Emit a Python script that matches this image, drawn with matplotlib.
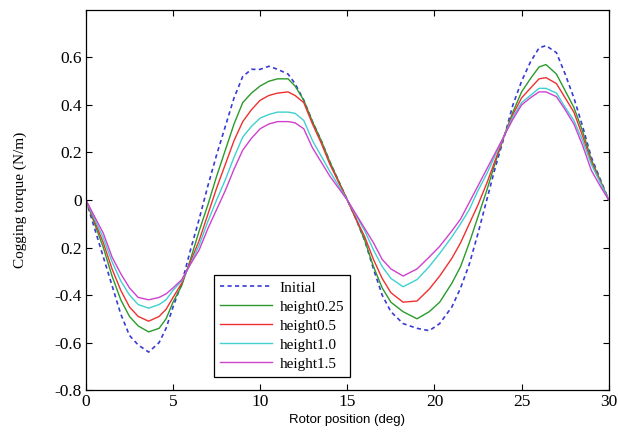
import numpy as np
import matplotlib
matplotlib.use("Agg")
import matplotlib.pyplot as plt

plt.rcParams['font.family'] = 'Liberation Serif'
plt.rcParams['axes.unicode_minus'] = False

# rotor position (deg)
pos = [0, 0.5, 1, 1.5, 2, 2.5, 3, 3.6, 4.2, 4.6,
       5, 5.5, 6, 6.5, 7, 7.5, 8, 8.5, 9, 9.5,
       10, 10.5, 11, 11.6, 12, 12.5, 13, 13.5, 14, 14.5,
       15, 15.5, 16, 16.5, 17, 17.5, 18.2, 19, 19.7, 20.3,
       21, 21.5, 22, 22.5, 23, 23.5, 24, 24.5, 25, 25.5,
       26, 26.4, 27, 27.5, 28, 28.5, 29, 29.5, 30]

# cogging torque (N/m)
initial = [0, -0.12, -0.24, -0.36, -0.48, -0.57, -0.61, -0.64, -0.60, -0.54,
           -0.45, -0.35, -0.21, -0.08, 0.06, 0.19, 0.31, 0.43, 0.52, 0.55,
           0.55, 0.563, 0.55, 0.53, 0.49, 0.42, 0.33, 0.25, 0.16, 0.08,
           0, -0.08, -0.17, -0.29, -0.40, -0.47, -0.52, -0.54, -0.55, -0.52,
           -0.45, -0.37, -0.27, -0.14, 0.0, 0.14, 0.265, 0.40, 0.50, 0.58,
           0.64, 0.65, 0.62, 0.53, 0.43, 0.31, 0.18, 0.09, 0]
h025 = [0, -0.10, -0.20, -0.32, -0.42, -0.49, -0.53, -0.555, -0.54, -0.50,
        -0.43, -0.36, -0.25, -0.13, -0.02, 0.10, 0.21, 0.32, 0.41, 0.45,
        0.48, 0.50, 0.51, 0.51, 0.48, 0.42, 0.33, 0.25, 0.16, 0.08,
        0, -0.08, -0.17, -0.28, -0.37, -0.43, -0.47, -0.50, -0.47, -0.43,
        -0.35, -0.28, -0.18, -0.07, 0.04, 0.16, 0.27, 0.37, 0.455, 0.51,
        0.56, 0.57, 0.53, 0.46, 0.39, 0.29, 0.17, 0.085, 0]
h05 = [0, -0.09, -0.18, -0.29, -0.38, -0.45, -0.49, -0.51, -0.49, -0.46,
       -0.41, -0.35, -0.26, -0.17, -0.06, 0.05, 0.15, 0.25, 0.33, 0.38,
       0.42, 0.44, 0.45, 0.455, 0.44, 0.41, 0.32, 0.24, 0.15, 0.075,
       0, -0.08, -0.155, -0.25, -0.33, -0.39, -0.43, -0.425, -0.375, -0.32,
       -0.245, -0.18, -0.10, -0.02, 0.07, 0.17, 0.27, 0.36, 0.43, 0.47,
       0.51, 0.515, 0.49, 0.43, 0.37, 0.27, 0.16, 0.08, 0]
h10 = [0, -0.08, -0.16, -0.26, -0.34, -0.40, -0.44, -0.455, -0.44, -0.42,
       -0.38, -0.34, -0.27, -0.19, -0.09, 0.0, 0.085, 0.18, 0.265, 0.31,
       0.345, 0.36, 0.37, 0.37, 0.365, 0.335, 0.25, 0.185, 0.12, 0.06,
       0, -0.065, -0.13, -0.21, -0.28, -0.33, -0.365, -0.335, -0.28, -0.225,
       -0.155, -0.10, -0.04, 0.04, 0.11, 0.19, 0.27, 0.35, 0.41, 0.44,
       0.47, 0.47, 0.45, 0.39, 0.335, 0.25, 0.15, 0.075, 0]
h15 = [0, -0.07, -0.14, -0.24, -0.31, -0.37, -0.41, -0.42, -0.41, -0.395,
       -0.37, -0.335, -0.27, -0.21, -0.12, -0.04, 0.04, 0.13, 0.21, 0.26,
       0.30, 0.32, 0.33, 0.33, 0.325, 0.30, 0.22, 0.16, 0.10, 0.05,
       0, -0.06, -0.12, -0.18, -0.25, -0.29, -0.32, -0.29, -0.24, -0.195,
       -0.13, -0.08, -0.01, 0.06, 0.13, 0.20, 0.27, 0.34, 0.40, 0.43,
       0.455, 0.455, 0.435, 0.38, 0.32, 0.23, 0.125, 0.06, 0]

ytick_vals = [-0.8, -0.6, -0.4, -0.2, 0, 0.2, 0.4, 0.6]
ytick_labels = ['-0.8', '-0.6', '-0.4', '0.2', '0', '0.2', '0.4', '0.6']

fig = plt.figure(figsize=(6.18, 4.32), dpi=100)
ax = fig.add_axes([0.139, 0.097, 0.846, 0.88])

ax.plot(pos, initial, '--', color='#3a3ad8', lw=1.2, dashes=(2.5, 2), label='Initial')
ax.plot(pos, h025, color='#2a9a2a', lw=1.0, label='height0.25')
ax.plot(pos, h05, color='#f03030', lw=1.0, label='height0.5')
ax.plot(pos, h10, color='#40d0d0', lw=1.0, label='height1.0')
ax.plot(pos, h15, color='#d040d0', lw=1.0, label='height1.5')

ax.set_xlim(0, 30)
ax.set_ylim(-0.8, 0.8)
ax.set_xticks([0, 5, 10, 15, 20, 25, 30])
ax.set_yticks(ytick_vals)
ax.set_yticklabels(ytick_labels)
ax.tick_params(direction='in', top=True, right=True, labelsize=12.5, length=4, pad=3)
for s in ax.spines.values():
    s.set_linewidth(0.9)

ax.set_xlabel('Rotor position (deg)', fontsize=9.5, family='Liberation Sans', labelpad=3)
ax.set_ylabel('Cogging torque (N/m)', fontsize=11, labelpad=20)

leg = ax.legend(loc='lower left', bbox_to_anchor=(0.245, 0.035), fontsize=11,
                fancybox=False, edgecolor='black', framealpha=1, handlelength=3.4,
                borderaxespad=0, labelspacing=0.35, borderpad=0.4, handletextpad=0.5)
leg.get_frame().set_linewidth(0.9)

fig.savefig('out.png', dpi=100)
